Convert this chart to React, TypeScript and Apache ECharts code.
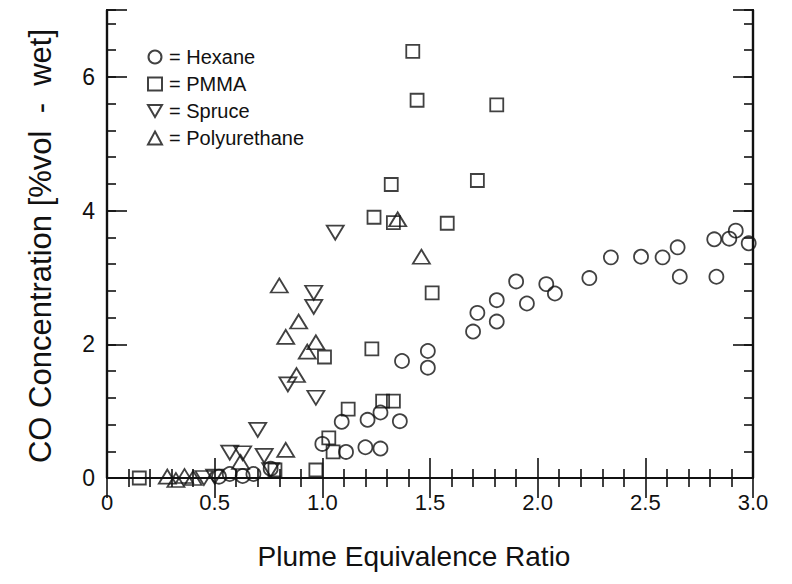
import React, { useEffect, useRef } from 'react';
import * as echarts from 'echarts';

// Plume equivalence ratio (x) and CO concentration [%vol - wet] (y)
const hexaneX = [0.52, 0.57, 0.63, 0.68, 0.76, 1.00, 1.11, 1.20, 1.27, 1.09, 1.21, 1.27, 1.36, 1.37, 1.49, 1.49, 1.70, 1.72, 1.81, 1.81, 1.90, 1.95, 2.04, 2.08, 2.24, 2.34, 2.48, 2.58, 2.65, 2.66, 2.82, 2.83, 2.89, 2.92, 2.98];
const hexaneY = [0.02, 0.06, 0.03, 0.06, 0.14, 0.51, 0.39, 0.46, 0.44, 0.84, 0.87, 0.98, 0.85, 1.75, 1.90, 1.65, 2.19, 2.47, 2.66, 2.34, 2.94, 2.61, 2.90, 2.76, 2.99, 3.30, 3.31, 3.30, 3.45, 3.01, 3.57, 3.01, 3.58, 3.70, 3.51];

const pmmaX = [0.15, 0.78, 0.97, 1.03, 1.05, 1.12, 1.28, 1.33, 1.01, 1.23, 1.51, 1.24, 1.33, 1.32, 1.58, 1.72, 1.42, 1.44, 1.81];
const pmmaY = [0.00, 0.12, 0.12, 0.60, 0.39, 1.03, 1.15, 1.15, 1.81, 1.93, 2.77, 3.90, 3.82, 4.39, 3.81, 4.45, 6.38, 5.65, 5.58];

const spruceX = [0.45, 0.50, 0.57, 0.63, 0.70, 0.73, 0.76, 0.84, 0.96, 0.96, 0.97, 1.06];
const spruceY = [0.00, 0.02, 0.38, 0.37, 0.72, 0.33, 0.12, 1.40, 2.77, 2.56, 1.20, 3.67];

const polyX = [0.28, 0.32, 0.36, 0.40, 0.62, 0.80, 0.83, 0.83, 0.88, 0.89, 0.93, 0.97, 1.35, 1.46];
const polyY = [0.02, -0.03, 0.03, 0.00, 0.24, 2.88, 2.11, 0.42, 1.54, 2.34, 1.89, 2.03, 3.87, 3.31];

const seriesNames = ['Hexane', 'PMMA', 'Spruce', 'Polyurethane'];
const xTickLabels = ['0', '0.5', '1.0', '1.5', '2.0', '2.5', '3.0'];

const xTitle = 'Plume Equivalence Ratio';
const yTitle = 'CO Concentration [%vol\u00a0\u00a0-\u00a0\u00a0wet]';

const FONT = 'Liberation Sans, Arial, sans-serif';
const INK = '#111';

const zip = (xs: number[], ys: number[]) => xs.map((x, i) => [x, ys[i]]);

export default function App() {
  const ref = useRef<HTMLDivElement>(null);

  useEffect(() => {
    if (!ref.current) return;
    const chart = echarts.init(ref.current, null, { renderer: 'svg' });

    const axisLine = { show: true, lineStyle: { color: INK, width: 2.2 } };
    const tickStyle = { color: INK, width: 1.6 };

    const xAxisBase = (position: string, showLabel: boolean) => ({
      type: 'value',
      position,
      min: 0,
      max: 3,
      interval: 0.5,
      axisLine,
      axisTick: { show: true, inside: true, length: 20, lineStyle: tickStyle },
      minorTick: { show: true, splitNumber: 5, length: 9, lineStyle: tickStyle },
      splitLine: { show: false },
      minorSplitLine: { show: false },
      axisLabel: {
        show: showLabel,
        margin: 13,
        fontSize: 22,
        color: INK,
        fontFamily: FONT,
        formatter: (v: number) => xTickLabels[Math.round(v / 0.5)] ?? '',
      },
    });

    const yMajor = (position: string, showLabel: boolean) => ({
      type: 'value',
      position,
      min: 0,
      max: 7,
      interval: 2,
      axisLine,
      axisTick: { show: true, inside: true, length: 20, lineStyle: tickStyle },
      splitLine: { show: false },
      axisLabel: {
        show: showLabel,
        margin: 12,
        fontSize: 23,
        color: INK,
        fontFamily: FONT,
        formatter: (v: number) => (v > 6.5 ? '' : String(v)),
      },
    });

    const yMinor = (position: string) => ({
      type: 'value',
      position,
      min: 0,
      max: 7,
      interval: 0.4,
      axisLine,
      axisTick: { show: true, inside: true, length: 9, lineStyle: tickStyle },
      splitLine: { show: false },
      axisLabel: { show: false },
    });

    const hollow = { color: 'rgba(0,0,0,0)', borderColor: INK, borderWidth: 1.8 };

    const base = {
      type: 'scatter',
      xAxisIndex: 0,
      yAxisIndex: 0,
      clip: false,
      itemStyle: hollow,
      emphasis: { disabled: true },
    };

    const downTri = 'path://M0,0L20,0L10,17Z';

    chart.setOption({
      animation: false,
      backgroundColor: '#fff',
      grid: { left: 107, right: 39, top: 10, bottom: 106 },
      legend: {
        orient: 'vertical',
        left: 142,
        top: 42,
        itemWidth: 14,
        itemHeight: 13,
        itemGap: 7,
        selectedMode: false,
        formatter: (n: string) => '= ' + n,
        textStyle: { fontSize: 20, color: INK, fontFamily: FONT, padding: [0, 0, 0, 2] },
        data: seriesNames,
      },
      xAxis: [xAxisBase('bottom', true), xAxisBase('top', false)],
      yAxis: [yMajor('left', true), yMinor('left'), yMajor('right', false), yMinor('right')],
      series: [
        { ...base, name: seriesNames[0], symbol: 'circle', symbolSize: 14, data: zip(hexaneX, hexaneY) },
        { ...base, name: seriesNames[1], symbol: 'rect', symbolSize: 13, data: zip(pmmaX, pmmaY) },
        { ...base, name: seriesNames[2], symbol: downTri, symbolSize: [17, 14], data: zip(spruceX, spruceY) },
        { ...base, name: seriesNames[3], symbol: 'triangle', symbolSize: [17, 14], data: zip(polyX, polyY) },
      ],
      graphic: [
        {
          type: 'text',
          x: 414,
          y: 556,
          style: {
            text: xTitle,
            fontSize: 28,
            fontFamily: FONT,
            fill: INK,
            align: 'center',
            verticalAlign: 'middle',
          },
        },
        {
          type: 'text',
          x: 40,
          y: 246,
          rotation: Math.PI / 2,
          style: {
            text: yTitle,
            fontSize: 31,
            fontFamily: FONT,
            fill: INK,
            align: 'center',
            verticalAlign: 'middle',
          },
        },
      ],
    });

    return () => chart.dispose();
  }, []);

  return (
    <div
      ref={ref}
      style={{ position: 'fixed', left: 0, top: 0, width: 792, height: 584, background: '#fff' }}
    />
  );
}
